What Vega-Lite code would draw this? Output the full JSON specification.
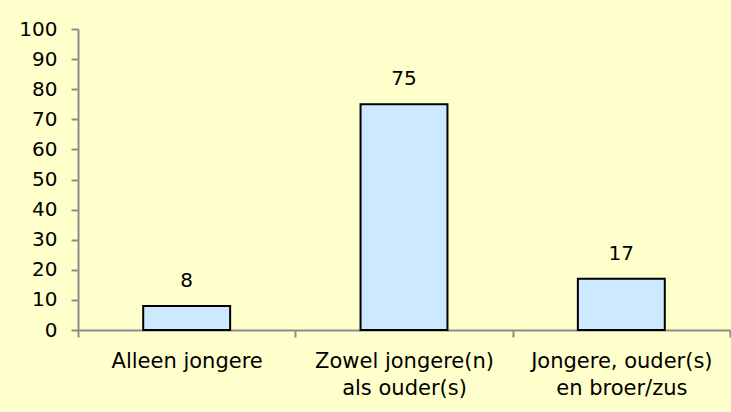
{
  "$schema": "https://vega.github.io/schema/vega-lite/v6.json",
  "width": 652,
  "height": 301,
  "autosize": {"type": "none"},
  "padding": {"left": 78, "top": 29, "right": 1, "bottom": 82},
  "background": "#FFFFCC",
  "config": {"view": {"stroke": null}, "font": "DejaVu Sans"},
  "data": {"values": [
    {"cat": "Alleen jongere", "value": 8},
    {"cat": "Zowel jongere(n)|als ouder(s)", "value": 75},
    {"cat": "Jongere, ouder(s)|en broer/zus", "value": 17}
  ]},
  "encoding": {
    "x": {"field": "cat", "type": "nominal", "sort": null,
      "scale": {"paddingInner": 0, "paddingOuter": 0},
      "axis": {"title": null, "labelAngle": 0, "labelExpr": "split(datum.label, '|')",
        "labelFontSize": 21, "labelColor": "#000000", "labelPadding": 13, "labelLineHeight": 27,
        "labelLimit": 400, "labelOverlap": false,
        "tickBand": "extent", "tickSize": 7, "tickColor": "#8c8c8c", "tickWidth": 2,
        "domainColor": "#8c8c8c", "domainWidth": 2}},
    "y": {"field": "value", "type": "quantitative",
      "scale": {"domain": [0, 100]},
      "axis": {"title": null, "values": [0,10,20,30,40,50,60,70,80,90,100], "grid": false,
        "labelFontSize": 20, "labelColor": "#000000", "labelPadding": 14,
        "tickSize": 7, "tickColor": "#8c8c8c", "tickWidth": 2,
        "domainColor": "#8c8c8c", "domainWidth": 2}}
  },
  "layer": [
    {"mark": {"type": "bar", "width": {"band": 0.4}, "fill": "#CCE9FF", "stroke": "#000000", "strokeWidth": 2}},
    {"mark": {"type": "text", "baseline": "bottom", "dy": -15, "fontSize": 20, "color": "#000000"},
     "encoding": {"text": {"field": "value", "type": "quantitative"}}}
  ]
}
